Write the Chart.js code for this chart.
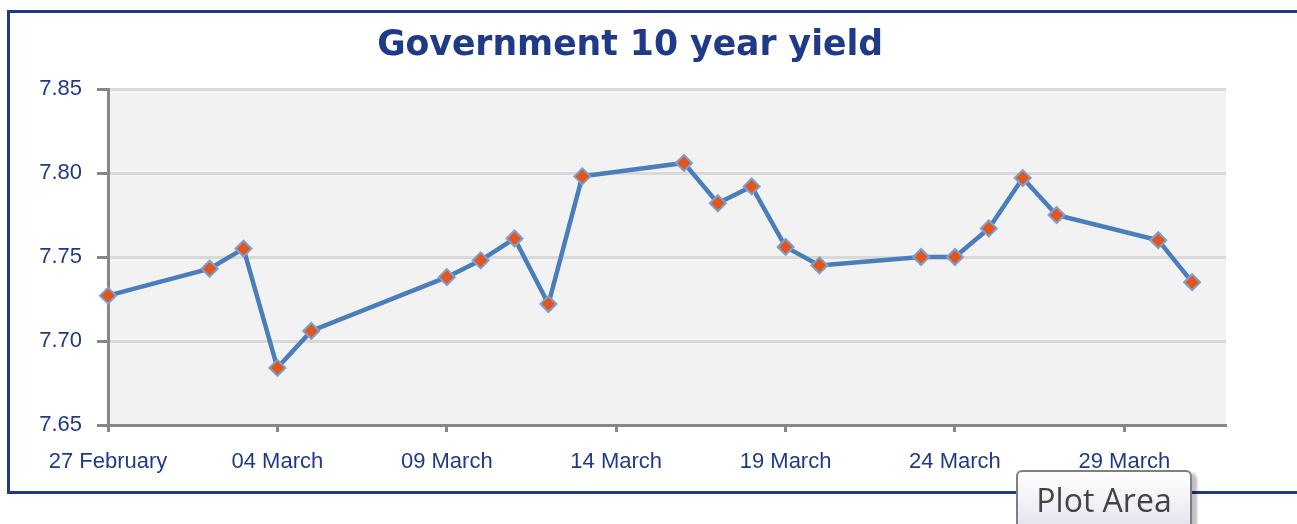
<!DOCTYPE html>
<html>
<head>
<meta charset="utf-8">
<script src="https://cdn.jsdelivr.net/npm/chart.js@4.4.1/dist/chart.umd.min.js"></script>
<style>
  html, body { margin: 0; padding: 0; background: #fff; overflow: hidden; }
  #wrap { position: relative; width: 1297px; height: 524px; }
  #frame {
    position: absolute; left: 7px; top: 10px; width: 1300px; height: 478px;
    border: 3px solid #1f3a88; border-right: none;
  }
  #chart { position: absolute; left: 0; top: 0; }
  #title {
    position: absolute; left: 0; top: 22px; width: 1260px; text-align: center;
    font: bold 36px "DejaVu Sans", sans-serif; color: #1f3a86; white-space: nowrap;
  }
  #title span { display: inline-block; transform-origin: center; }
  #tip {
    position: absolute; left: 1016px; top: 470px; width: 176px; height: 60px;
    border: 2px solid #7f7f7f; border-radius: 6px;
    background: linear-gradient(#ffffff, #e4e4f0);
    box-shadow: 5px 3px 3px rgba(0,0,0,0.25);
    font: 32px "Open Sans", sans-serif; color: #444; text-align: center;
    line-height: 56px; box-sizing: border-box;
  }
</style>
</head>
<body>
<div id="wrap">
  <div id="frame"></div>
  <canvas id="chart" width="1297" height="524"></canvas>
  <div id="title"><span>Government 10 year yield</span></div>
  <div id="tip">Plot Area</div>
</div>
<script>
"use strict";

// Fechas de cada observación (2015)
const fechas = [
  "2015-02-27", "2015-03-02", "2015-03-03", "2015-03-04", "2015-03-05",
  "2015-03-09", "2015-03-10", "2015-03-11", "2015-03-12", "2015-03-13",
  "2015-03-16", "2015-03-17", "2015-03-18", "2015-03-19", "2015-03-20",
  "2015-03-23", "2015-03-24", "2015-03-25", "2015-03-26", "2015-03-27",
  "2015-03-30", "2015-03-31"
];

// Rendimiento del bono a 10 años
const rendimiento = [
  7.727, 7.743, 7.755, 7.684, 7.706,
  7.738, 7.748, 7.761, 7.722, 7.798,
  7.806, 7.782, 7.792, 7.756, 7.745,
  7.750, 7.750, 7.767, 7.797, 7.775,
  7.760, 7.735
];

// Marcas del eje X
const fechasEje = ["2015-02-27", "2015-03-04", "2015-03-09", "2015-03-14", "2015-03-19", "2015-03-24", "2015-03-29"];
const etiquetasEje = ["27 February", "04 March", "09 March", "14 March", "19 March", "24 March", "29 March"];
const fechaFin = "2015-04-01";

const yMin = 7.65, yMax = 7.85, yPaso = 0.05;

const inicio = Date.parse(fechas[0]);
const aDia = (s) => Math.round((Date.parse(s) - inicio) / 86400000);

const puntos = fechas.map((f, i) => ({ x: aDia(f), y: rendimiento[i] }));
const diasEje = fechasEje.map(aDia);

// Fondo gris del área de trazado
const fondoArea = {
  id: "fondoArea",
  beforeDraw(chart) {
    const { ctx, chartArea: a } = chart;
    ctx.save();
    ctx.fillStyle = "#f2f2f2";
    ctx.fillRect(a.left, a.top, a.right - a.left, a.bottom - a.top);
    ctx.restore();
  }
};

const azul = "#1f3a86";
const gris = "#878787";

new Chart(document.getElementById("chart"), {
  type: "line",
  data: {
    datasets: [{
      data: puntos,
      clip: false,
      borderColor: "#4a7ebb",
      borderWidth: 4.5,
      tension: 0,
      pointStyle: "rectRot",
      pointRadius: 8,
      pointBackgroundColor: "#e2561b",
      pointBorderColor: "#7f9fd0",
      pointBorderWidth: 2
    }]
  },
  options: {
    responsive: false,
    animation: false,
    layout: { padding: { top: 89, right: 71, bottom: 0, left: 0 } },
    plugins: {
      legend: { display: false },
      tooltip: { enabled: false },
      title: { display: false }
    },
    scales: {
      x: {
        type: "linear",
        min: 0,
        max: aDia(fechaFin),
        afterFit(scale) { scale.height = 99; },
        afterBuildTicks(scale) { scale.ticks = diasEje.map(v => ({ value: v })); },
        grid: { drawOnChartArea: false, drawTicks: true, tickLength: 7, tickColor: gris, tickWidth: 3 },
        border: { color: gris, width: 3 },
        ticks: {
          autoSkip: false,
          maxRotation: 0,
          padding: 17,
          color: azul,
          font: { family: "Liberation Sans", size: 22 },
          callback: (v) => etiquetasEje[diasEje.indexOf(v)] || ""
        }
      },
      y: {
        min: yMin,
        max: yMax,
        afterFit(scale) { scale.width = 108; },
        grid: { color: "#d9d9d9", lineWidth: 3, tickLength: 11, tickColor: gris, tickWidth: 3 },
        border: { color: gris, width: 3 },
        ticks: {
          stepSize: yPaso,
          padding: 15,
          color: azul,
          font: { family: "Liberation Sans", size: 22 },
          callback: (v) => Number(v).toFixed(2)
        }
      }
    }
  },
  plugins: [fondoArea]
});

// Ajustar el ancho del título al original
const t = document.querySelector("#title span");
t.style.transform = "scaleX(" + (506 / t.getBoundingClientRect().width) + ")";
</script>
</body>
</html>
